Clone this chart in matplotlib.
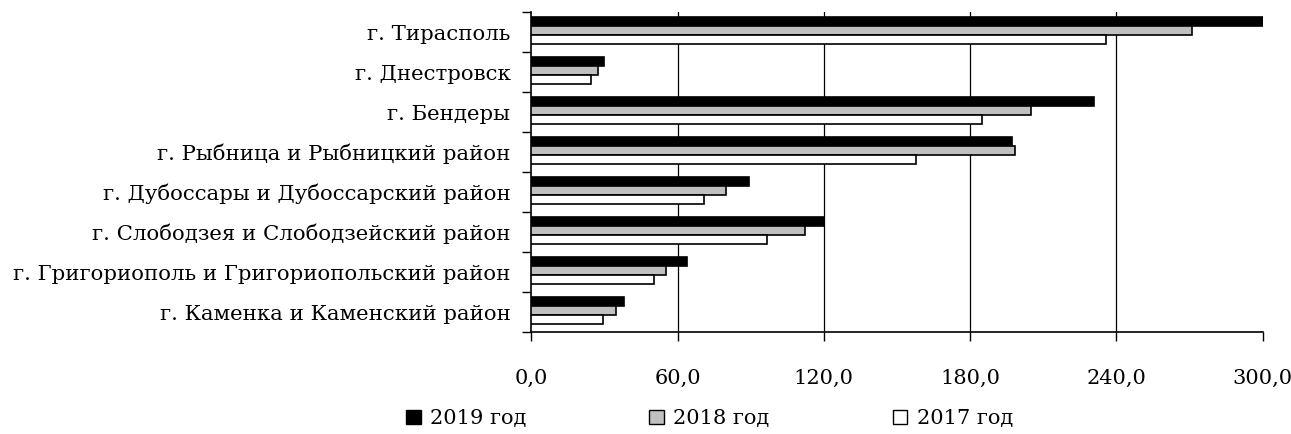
import numpy as np
import matplotlib
matplotlib.use("Agg")
import matplotlib.pyplot as plt
from matplotlib.patches import Patch

regions = [
    "г. Тирасполь",
    "г. Днестровск",
    "г. Бендеры",
    "г. Рыбница и Рыбницкий район",
    "г. Дубоссары и Дубоссарский район",
    "г. Слободзея и Слободзейский район",
    "г. Григориополь и Григориопольский район",
    "г. Каменка и Каменский район",
]
years = ["2019 год", "2018 год", "2017 год"]
v2019 = [302.0, 29.7, 230.8, 197.0, 89.5, 119.9, 63.7, 38.1]
v2018 = [271.0, 27.2, 205.0, 198.4, 80.0, 112.3, 55.2, 34.6]
v2017 = [235.6, 24.6, 185.0, 157.8, 71.0, 96.8, 50.3, 29.4]
xticks = [0, 60, 120, 180, 240, 300]

plt.rcParams["font.family"] = ["DejaVu Serif"]
FS = 15

fig = plt.figure(figsize=(12.91, 4.34), dpi=100)
ax = fig.add_axes([0.4115, 0.235, 0.5665, 0.737])

n = len(regions)
y = np.arange(n)
h = 0.23
shift = -0.04
colors = ["black", "#c0c0c0", "white"]
for i, (vals, c) in enumerate(zip([v2019, v2018, v2017], colors)):
    ax.barh(y + shift + (i - 1) * h, vals, height=h, color=c,
            edgecolor="black", linewidth=1.2, zorder=3)

ax.set_xlim(0, 300)
ax.set_ylim(n - 0.5, -0.5)
ax.set_xticks(xticks)
ax.set_xticklabels([f"{t:.1f}".replace(".", ",") for t in xticks], fontsize=FS)
ax.tick_params(axis="x", pad=20, length=6.5, width=1, direction="out")

ax.set_yticks(y)
ax.set_yticklabels(regions, fontsize=15.3)
ax.set_yticks(np.arange(n + 1) - 0.5, minor=True)
ax.tick_params(axis="y", which="major", length=0, pad=15)
ax.tick_params(axis="y", which="minor", length=6.5, width=1, direction="out")

for g in xticks[1:-1]:
    ax.axvline(g, color="black", linewidth=0.9, zorder=1)

for s in ["top", "right"]:
    ax.spines[s].set_visible(False)
for s in ["left", "bottom"]:
    ax.spines[s].set_linewidth(1.2)

handles = [Patch(facecolor=c, edgecolor="black", linewidth=1) for c in colors]
fig.legend(handles, years, loc="center", bbox_to_anchor=(0.5496, 0.035), ncol=3,
           frameon=False, fontsize=FS, handlelength=0.7, handleheight=0.7,
           handletextpad=0.45, columnspacing=5.9, borderpad=0)

fig.savefig("out.png", dpi=100)
